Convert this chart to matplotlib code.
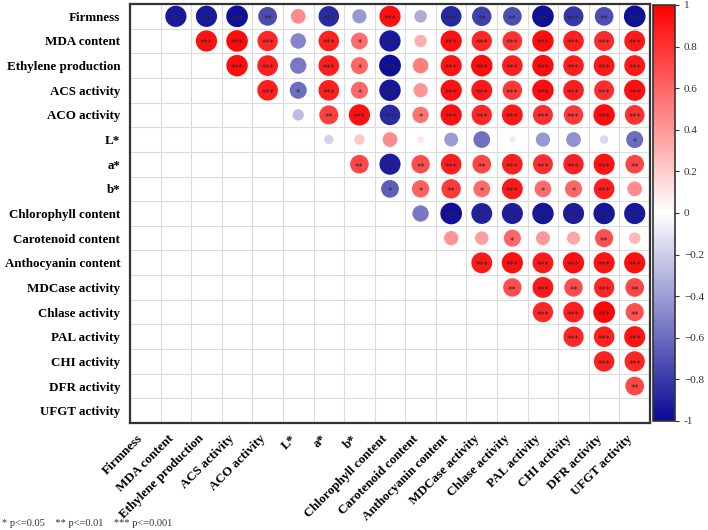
import numpy as np
import matplotlib
matplotlib.use("Agg")
import matplotlib.pyplot as plt
from matplotlib.colors import LinearSegmentedColormap, Normalize

labels = ["Firmness", "MDA content", "Ethylene production", "ACS activity",
          "ACO activity", "L*", "a*", "b*", "Chlorophyll content",
          "Carotenoid content", "Anthocyanin content", "MDCase activity",
          "Chlase activity", "PAL activity", "CHI activity", "DFR activity",
          "UFGT activity"]

# upper-triangle correlations, row i holds columns i+1 .. 16
r_firmness = [-0.93, -0.93, -0.97, -0.73, 0.45, -0.87, -0.42, 0.93, -0.33, -0.88, -0.78, -0.72, -0.97, -0.82, -0.72, -0.97]
r_mda = [0.93, 0.96, 0.85, -0.5, 0.87, 0.58, -0.93, 0.32, 0.93, 0.85, 0.8, 0.95, 0.88, 0.83, 0.9]
r_eth = [0.95, 0.88, -0.55, 0.88, 0.6, -0.98, 0.5, 0.92, 0.95, 0.88, 0.95, 0.88, 0.9, 0.9]
r_acs = [0.88, -0.6, 0.88, 0.6, -0.95, 0.42, 0.93, 0.9, 0.78, 0.95, 0.88, 0.82, 0.93]
r_aco = [-0.27, 0.75, 0.93, -0.87, 0.55, 0.93, 0.85, 0.9, 0.82, 0.78, 0.95, 0.8]
r_l = [-0.18, 0.22, 0.45, 0.1, -0.4, -0.58, -0.08, -0.42, -0.45, -0.15, -0.6]
r_a = [0.72, -0.92, 0.7, 0.88, 0.72, 0.88, 0.82, 0.86, 0.92, 0.72]
r_b = [-0.65, 0.62, 0.78, 0.58, 0.9, 0.58, 0.6, 0.88, 0.45]
r_chl = [-0.55, -0.97, -0.9, -0.92, -0.95, -0.92, -0.95, -0.93]
r_car = [0.42, 0.38, 0.6, 0.4, 0.35, 0.68, 0.28]
r_anth = [0.9, 0.93, 0.9, 0.93, 0.92, 0.93]
r_mdcase = [0.7, 0.9, 0.7, 0.85, 0.72]
r_chlase = [0.85, 0.88, 0.97, 0.68]
r_pal = [0.85, 0.87, 0.92]
r_chi = [0.87, 0.85]
r_dfr = [0.72]

s_firmness = ['***', '***', '***', '**', '', '***', '', '***', '', '***', '**', '**', '***', '***', '**', '***']
s_mda = ['***', '***', '***', '', '***', '*', '***', '', '***', '***', '***', '***', '***', '***', '***']
s_eth = ['***', '***', '', '***', '*', '***', '', '***', '***', '***', '***', '***', '***', '***']
s_acs = ['***', '*', '***', '*', '***', '', '***', '***', '***', '***', '***', '***', '***']
s_aco = ['', '**', '***', '***', '*', '***', '***', '***', '***', '***', '***', '***']
s_l = ['', '', '', '', '', '', '', '', '', '', '*']
s_a = ['**', '***', '**', '***', '**', '***', '***', '***', '***', '**']
s_b = ['*', '*', '**', '*', '***', '*', '*', '***', '']
s_chl = ['', '***', '***', '***', '***', '***', '***', '***']
s_car = ['', '', '*', '', '', '**', '']
s_anth = ['***', '***', '***', '***', '***', '***']
s_mdcase = ['**', '***', '**', '***', '**']
s_chlase = ['***', '***', '***', '**']
s_pal = ['***', '***', '***']
s_chi = ['***', '***']
s_dfr = ['**']

r_rows = [r_firmness, r_mda, r_eth, r_acs, r_aco, r_l, r_a, r_b, r_chl, r_car,
          r_anth, r_mdcase, r_chlase, r_pal, r_chi, r_dfr]
s_rows = [s_firmness, s_mda, s_eth, s_acs, s_aco, s_l, s_a, s_b, s_chl, s_car,
          s_anth, s_mdcase, s_chlase, s_pal, s_chi, s_dfr]

n = len(labels)
xs, ys, vals, stars = [], [], [], []
for i, (rr, ss) in enumerate(zip(r_rows, s_rows)):
    for k, (v, s) in enumerate(zip(rr, ss)):
        j = i + 1 + k
        xs.append(j); ys.append(i); vals.append(v); stars.append(s)
xs = np.array(xs); ys = np.array(ys); vals = np.array(vals)

cmap = LinearSegmentedColormap.from_list("bwr_c", ["#0A0A96", "#FFFFFF", "#FF0000"])
norm = Normalize(-1, 1)

W, H = 708, 530
fig = plt.figure(figsize=(W / 100, H / 100), dpi=100)
ax = fig.add_axes([130 / W, 1 - 423 / H, 520 / W, 419 / H])

ax.set_xlim(-0.5, n - 0.5)
ax.set_ylim(n - 0.5, -0.5)
for t in np.arange(-0.5, n, 1.0):
    ax.axvline(t, color="#dcdcdc", lw=0.8, zorder=0)
    ax.axhline(t, color="#dcdcdc", lw=0.8, zorder=0)

max_d_px = 22.0
sizes = (max_d_px * 0.72) ** 2 * np.abs(vals)
ax.scatter(xs, ys, s=sizes, c=vals, cmap=cmap, norm=norm, edgecolors="none", zorder=2)

for x, y, s in zip(xs, ys, stars):
    if s:
        ax.text(x, y + 0.12, s, ha="center", va="center", fontsize=6,
                color="#2a2a2a", family="DejaVu Sans", zorder=3)

lab_font = dict(family="Liberation Serif", weight="bold", size=9.4)
ax.set_xticks(range(n))
ax.set_yticks(range(n))
ax.set_xticklabels(labels, rotation=45, ha="right", va="top", **lab_font)
ax.set_yticklabels(labels, **lab_font)
ax.tick_params(length=0, pad=7)
for sp in ax.spines.values():
    sp.set_color("#333333")
    sp.set_linewidth(1.6)

cax = fig.add_axes([653 / W, 1 - 421 / H, 22 / W, 416 / H])
sm = matplotlib.cm.ScalarMappable(norm=norm, cmap=cmap)
cb = fig.colorbar(sm, cax=cax)
ticks = np.round(np.arange(-1, 1.01, 0.2), 1)
cb.set_ticks(ticks)
cb.set_ticklabels(["1" if t == 1 else ("-1" if t == -1 else ("0" if t == 0 else f"{t:g}".replace("-", "\u2212"))) for t in ticks])
cb.ax.tick_params(labelsize=8, length=3, width=0.8, colors="#333333")
for lab in cb.ax.get_yticklabels():
    lab.set_family("Liberation Serif")
cb.outline.set_edgecolor("#333333")
cb.outline.set_linewidth(1.2)

fig.text(2 / W, 1 - 524 / H, "* p<=0.05    ** p<=0.01    *** p<=0.001",
         fontsize=7.5, family="Liberation Serif", color="#333333", va="center")

fig.savefig("out.png", dpi=100)
